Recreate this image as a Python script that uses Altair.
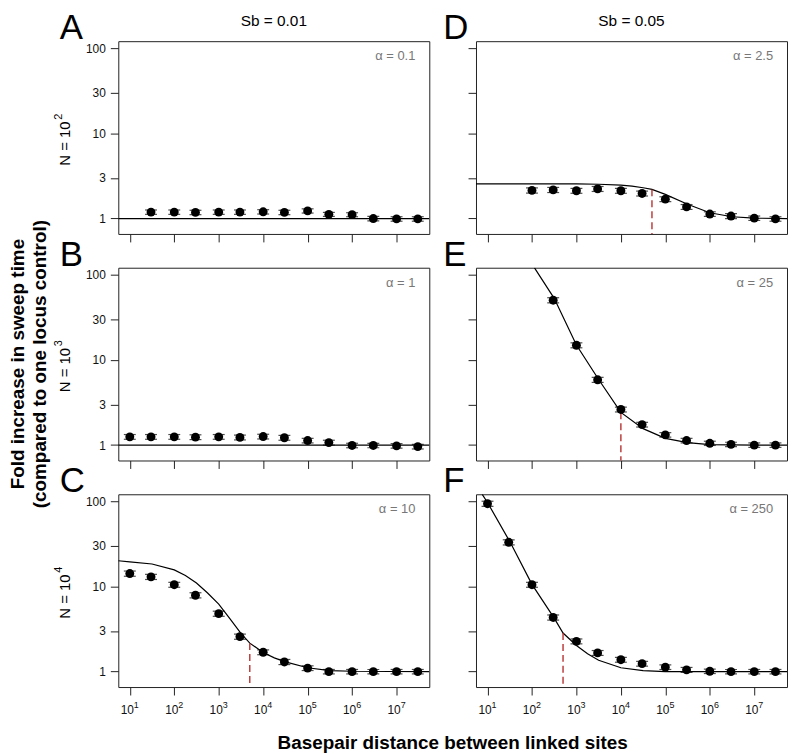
import altair as alt
import pandas as pd

W, H = 313, 194
FONT = "Liberation Sans"
XDOM = [5.51, 5.45e7]
YDOM = [0.659, 121.3]

XTICKS = [10, 100, 1000, 10000, 100000, 1000000, 10000000]
XTICK_BASE = ["10", "10", "10", "10", "10", "10", "10"]
XTICK_EXP = ["1", "2", "3", "4", "5", "6", "7"]
YTICKS = [1, 3, 10, 30, 100]

COL_TITLES = ["Sb = 0.01", "Sb = 0.05"]
ROW_EXP = ["2", "3", "4"]

# ---- Panel A (Sb=0.01, N=10^2)
A_px = [30, 100, 300, 1e3, 3e3, 1e4, 3e4, 1e5, 3e5, 1e6, 3e6, 1e7, 3e7]
A_py = [1.19, 1.19, 1.18, 1.19, 1.19, 1.2, 1.18, 1.23, 1.12, 1.11, 1.0, 0.99, 0.99]
A_se = [0.07, 0.07, 0.07, 0.07, 0.07, 0.07, 0.07, 0.07, 0.06, 0.06, 0.06, 0.06, 0.06]
A_cx = [5.5, 5.5e7]
A_cy = [1.0, 1.0]

# ---- Panel B (Sb=0.01, N=10^3)
B_px = [10, 30, 100, 300, 1e3, 3e3, 1e4, 3e4, 1e5, 3e5, 1e6, 3e6, 1e7, 3e7]
B_py = [1.25, 1.25, 1.25, 1.24, 1.25, 1.23, 1.26, 1.22, 1.13, 1.07, 0.99, 0.99, 0.98, 0.96]
B_se = [0.08, 0.08, 0.08, 0.08, 0.08, 0.08, 0.08, 0.08, 0.07, 0.07, 0.06, 0.06, 0.06, 0.06]
B_cx = [5.5, 5.5e7]
B_cy = [1.0, 1.0]

# ---- Panel C (Sb=0.01, N=10^4)
C_px = [10, 30, 100, 300, 1e3, 3e3, 1e4, 3e4, 1e5, 3e5, 1e6, 3e6, 1e7, 3e7]
C_py = [14.2, 13.0, 10.5, 7.9, 4.8, 2.58, 1.69, 1.30, 1.10, 1.0, 1.0, 1.0, 1.0, 1.0]
C_se = [1.0, 0.9, 0.7, 0.55, 0.33, 0.18, 0.11, 0.09, 0.07, 0.06, 0.06, 0.06, 0.06, 0.06]
C_cx = [5.5, 10, 31.6, 100, 178, 316, 562, 1000, 1780, 3160, 5000, 1e4, 1.78e4,
        3.16e4, 1e5, 3.16e5, 1e6, 5.5e7]
C_cy = [20.1, 19.5, 18.4, 15.7, 13.5, 11.0, 8.4, 6.2, 4.2, 2.82, 2.16, 1.68, 1.45,
        1.30, 1.11, 1.03, 1.01, 1.0]
C_dash = (5000, 2.16)

# ---- Panel D (Sb=0.05, N=10^2)
D_px = [100, 300, 1e3, 3e3, 1e4, 3e4, 1e5, 3e5, 1e6, 3e6, 1e7, 3e7]
D_py = [2.14, 2.17, 2.12, 2.23, 2.12, 1.97, 1.69, 1.37, 1.13, 1.07, 1.01, 0.99]
D_se = [0.15, 0.15, 0.14, 0.15, 0.14, 0.13, 0.11, 0.09, 0.07, 0.07, 0.06, 0.06]
D_cx = [5.5, 100, 1000, 3160, 1e4, 1.78e4, 3.16e4, 5e4, 1e5, 3.16e5, 1e6, 3.16e6, 1e7, 5.5e7]
D_cy = [2.55, 2.55, 2.55, 2.53, 2.47, 2.40, 2.30, 2.20, 1.92, 1.47, 1.17, 1.05, 1.01, 1.0]
D_dash = (5e4, 2.20)

# ---- Panel E (Sb=0.05, N=10^3)
E_px = [300, 1e3, 3e3, 1e4, 3e4, 1e5, 3e5, 1e6, 3e6, 1e7, 3e7]
E_py = [50.4, 14.9, 5.85, 2.62, 1.74, 1.32, 1.13, 1.05, 1.02, 1.0, 1.0]
E_se = [3.5, 1.0, 0.4, 0.17, 0.11, 0.08, 0.07, 0.06, 0.06, 0.06, 0.06]
E_cx = [114, 316, 1000, 3160, 1e4, 3.16e4, 1e5, 3.16e5, 1e6, 1e7, 5.5e7]
E_cy = [121, 53, 15, 5.9, 2.42, 1.56, 1.2, 1.07, 1.01, 1.0, 1.0]
E_dash = (1e4, 2.42)

# ---- Panel F (Sb=0.05, N=10^4)
F_px = [10, 30, 100, 300, 1e3, 3e3, 1e4, 3e4, 1e5, 3e5, 1e6, 3e6, 1e7, 3e7]
F_py = [94, 33.1, 10.5, 4.33, 2.27, 1.66, 1.38, 1.24, 1.13, 1.05, 1.01, 1.0, 1.0, 1.0]
F_se = [6.5, 2.3, 0.7, 0.3, 0.15, 0.11, 0.09, 0.08, 0.07, 0.07, 0.06, 0.06, 0.06, 0.06]
F_cx = [7.6, 10, 32, 100, 316, 500, 1000, 1780, 3160, 1e4, 3.16e4, 1e5, 5.5e7]
F_cy = [121, 97, 33.5, 10.6, 4.25, 2.84, 2.03, 1.62, 1.36, 1.11, 1.03, 1.0, 1.0]
F_dash = (500, 2.84)


def txt(text, x, y, **kw):
    return alt.Chart(pd.DataFrame({"t": [text]})).mark_text(font=FONT, **kw).encode(
        x=alt.value(x), y=alt.value(y), text="t:N")


def panel(letter, alpha, px, py, pse, cx, cy, dash, col, row):
    left = col == 0
    bottom = row == 2
    xs = alt.Scale(type="log", domain=XDOM, nice=False)
    ys = alt.Scale(type="log", domain=YDOM, nice=False)
    xax = alt.Axis(values=XTICKS, labels=False, tickSize=8, domain=False, grid=False,
                   title=None, tickColor="#222", tickWidth=1)
    yax = alt.Axis(values=YTICKS, labels=left, format="d", tickSize=8, labelFontSize=12,
                   labelFont=FONT, labelPadding=5, labelColor="#111", domain=False,
                   grid=False, title=None, tickColor="#222", tickWidth=1)

    def X(f="x"):
        return alt.X(f"{f}:Q", scale=xs, axis=xax)

    def Y(f="y"):
        return alt.Y(f"{f}:Q", scale=ys, axis=yax)

    pts = pd.DataFrame({"x": px, "y": py,
                        "lo": [v - s for v, s in zip(py, pse)],
                        "hi": [v + s for v, s in zip(py, pse)]})
    cur = pd.DataFrame({"x": cx, "y": cy})
    layers = [alt.Chart(cur).mark_line(color="black", strokeWidth=1.2, clip=True)
              .encode(x=X(), y=Y())]
    if dash is not None:
        d = pd.DataFrame({"x": [dash[0]], "y": [dash[1]]})
        layers.append(alt.Chart(d).mark_rule(color="#B22222", strokeDash=[7, 4], strokeWidth=1.3)
                      .encode(x=X(), y=Y(), y2=alt.value(H)))
    layers.append(alt.Chart(pts).mark_tick(orient="horizontal", size=12, thickness=1.2, color="black")
                  .encode(x=X(), y=Y("lo")))
    layers.append(alt.Chart(pts).mark_tick(orient="horizontal", size=12, thickness=1.2, color="black")
                  .encode(x=X(), y=Y("hi")))
    layers.append(alt.Chart(pts).mark_circle(size=80, color="black", opacity=1)
                  .encode(x=X(), y=Y()))
    # alpha label
    layers.append(txt(alpha, W - 14, 15, align="right", baseline="middle", fontSize=13, color="#777"))
    # panel letter
    layers.append(txt(letter, -59 if left else -33, -2, align="left", baseline="alphabetic",
                      fontSize=35, color="black"))
    if row == 0:
        layers.append(txt(COL_TITLES[col], W / 2, -15, align="center", baseline="alphabetic",
                          fontSize=15.5, color="black"))
    if left:
        layers.append(txt("N = 10", -54, 103, angle=270, align="center", baseline="middle",
                          fontSize=15, color="black"))
        layers.append(txt(ROW_EXP[row], -59.5, 76, angle=270, align="center", baseline="middle",
                          fontSize=11, color="black"))
    if bottom:
        tk = pd.DataFrame({"x": XTICKS, "b": XTICK_BASE, "e": XTICK_EXP})
        layers.append(alt.Chart(tk).mark_text(font=FONT, fontSize=12, align="center",
                                              baseline="alphabetic", dx=-2.5, color="#111")
                      .encode(x=X(), y=alt.value(H + 27), text="b:N"))
        layers.append(alt.Chart(tk).mark_text(font=FONT, fontSize=9, align="center",
                                              baseline="alphabetic", dx=6.6, color="#111")
                      .encode(x=X(), y=alt.value(H + 21), text="e:N"))
    if left and row == 1:
        layers.append(txt("Fold increase in sweep time", -95, 97, angle=270, align="center",
                          baseline="alphabetic", fontSize=19, fontWeight="bold", color="black"))
        layers.append(txt("(compared to one locus control)", -73, 97, angle=270, align="center",
                          baseline="alphabetic", fontSize=19, fontWeight="bold", color="black"))
    if left and bottom:
        layers.append(txt("Basepair distance between linked sites", 336.5, 256, align="center",
                          baseline="alphabetic", fontSize=19, fontWeight="bold", color="black"))
    return alt.layer(*layers).properties(width=W, height=H)


pA = panel("A", "α = 0.1", A_px, A_py, A_se, A_cx, A_cy, None, 0, 0)
pB = panel("B", "α = 1", B_px, B_py, B_se, B_cx, B_cy, None, 0, 1)
pC = panel("C", "α = 10", C_px, C_py, C_se, C_cx, C_cy, C_dash, 0, 2)
pD = panel("D", "α = 2.5", D_px, D_py, D_se, D_cx, D_cy, D_dash, 1, 0)
pE = panel("E", "α = 25", E_px, E_py, E_se, E_cx, E_cy, E_dash, 1, 1)
pF = panel("F", "α = 250", F_px, F_py, F_se, F_cx, F_cy, F_dash, 1, 2)

chart = (alt.concat(pA, pD, pB, pE, pC, pF, columns=2,
                    spacing={"row": 34, "column": 47}, bounds="flush")
         .resolve_scale(x="independent", y="independent")
         .configure_view(stroke="#222", strokeWidth=1)
         .properties(padding=0, background="white"))

chart.save("out.html", embed_options={"renderer": "svg", "actions": False})
